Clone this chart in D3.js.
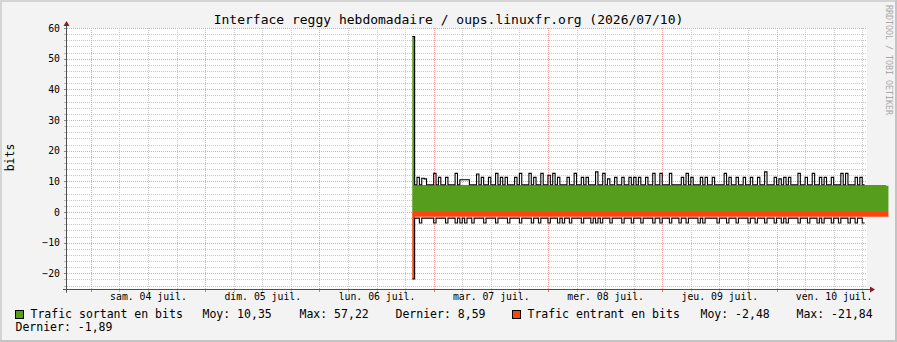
<!DOCTYPE html>
<html><head><meta charset="utf-8">
<script src="https://cdn.jsdelivr.net/npm/d3@7"></script>
<style>
html,body{margin:0;padding:0;background:#f3f3f3;}
svg{display:block;}
text{font-family:"DejaVu Sans Mono",monospace;fill:#000;}
</style></head><body>
<svg id="c" width="897" height="342"></svg>
<script>
const title = "Interface reggy hebdomadaire / oups.linuxfr.org (2026/07/10)";
const yAxisLabel = "bits";
const watermark = "RRDTOOL / TOBI OETIKER";
const yTicks = [-20,-10,0,10,20,30,40,50,60];
const dayLabels = ["sam. 04 juil.","dim. 05 juil.","lun. 06 juil.","mar. 07 juil.","mer. 08 juil.","jeu. 09 juil.","ven. 10 juil."];
const dayStarts = ["2026-07-04","2026-07-05","2026-07-06","2026-07-07","2026-07-08","2026-07-09","2026-07-10"];
const rangeStart = "2026-07-03T19:00:00Z", rangeEnd = "2026-07-10T19:00:00Z";
const dataStart = "2026-07-06T19:30:00Z";
const stepMinutes = 30;

const outAvg = [57.22,8.8,8.8,8.8,8.8,8.8,8.8,8.8,8.8,8.8, 8.8,8.8,8.8,8.8,8.8,8.8,8.8,8.8,8.8,8.8,
8.8,8.8,8.8,8.8,8.8,8.8,8.8,8.8,8.8,8.8, 8.8,8.8,8.8,8.8,8.8,8.8,8.8,8.8,8.8,8.8,
8.8,8.8,8.8,8.8,8.8,8.8,8.8,8.8,8.8,8.8, 8.8,8.8,8.8,8.8,8.8,8.8,8.8,8.8,8.8,8.8,
8.8,8.8,8.8,8.8,8.8,8.8,8.8,8.8,8.8,8.8, 8.8,8.8,8.8,8.8,8.8,8.8,8.8,8.8,8.8,8.8,
8.8,8.8,8.8,8.8,8.8,8.8,8.8,8.8,8.8,8.8, 8.8,8.8,8.8,8.8,8.8,8.8,8.8,8.8,8.8,8.8,
8.8,8.8,8.8,8.8,8.8,8.8,8.8,8.8,8.8,8.8, 8.8,8.8,8.8,8.8,8.8,8.8,8.8,8.8,8.8,8.8,
8.8,8.8,8.8,8.8,8.8,8.8,8.8,8.8,8.8,8.8, 8.8,8.8,8.8,8.8,8.8,8.8,8.8,8.8,8.8,8.8,
8.8,8.8,8.8,8.8,8.8,8.8,8.8,8.8,8.8,8.8, 8.8,8.8,8.8,8.8,8.8,8.8,8.8,8.8,8.8,8.8,
8.8,8.8,8.8,8.8,8.8,8.8,8.8,8.8,8.8,8.8, 8.8,8.8,8.8,8.8,8.8,8.8,8.8,8.8,8.8,8.8,
8.8,8.8,8.8,8.8,8.8,8.8,8.8,8.8,8.8,8.8, 8.8,8.8,8.8,8.8,8.8,8.8,8.8,8.8,8.8,8.59];

const outMax = [57.22,8.9,11.3,8.9,11.0,10.8,8.9,8.9,8.9,12.6, 8.9,11.3,8.9,8.9,11.3,8.9,8.9,8.9,12.6,8.9,
10.5,10.5,10.5,10.5,8.9,8.9,8.9,12.4,8.9,11.3, 8.9,8.9,11.3,8.9,8.9,12.6,8.9,11.3,8.9,11.3,
8.9,8.9,8.9,11.3,8.9,12.6,8.9,8.9,8.9,12.6, 8.9,11.3,8.9,8.9,12.6,8.9,8.9,12.0,8.9,12.6,
8.9,11.3,8.9,8.9,8.9,11.3,8.9,8.9,12.6,8.9, 8.9,11.3,8.9,11.3,8.9,8.9,8.9,13.1,8.9,8.9,
12.6,8.9,10.8,8.9,8.9,11.3,8.9,8.9,11.3,8.9, 8.9,11.3,8.9,11.3,8.9,11.3,8.9,8.9,11.3,8.9,
8.9,12.6,8.9,8.9,12.6,8.9,8.9,8.9,12.6,8.9, 8.9,8.9,8.9,11.3,8.9,12.6,8.9,11.3,8.9,8.9,
8.9,11.3,8.9,11.3,8.9,8.9,11.3,8.9,8.9,8.9, 8.9,12.6,8.9,11.3,8.9,8.9,11.3,8.9,8.9,11.3,
8.9,8.9,11.3,8.9,8.9,11.3,8.9,8.9,13.1,8.9, 8.9,8.9,11.3,8.9,10.8,8.9,11.3,8.9,11.3,8.9,
8.9,8.9,12.6,8.9,8.9,11.3,8.9,8.9,12.6,8.9, 8.9,11.3,8.9,11.3,8.9,8.9,11.3,8.9,8.9,8.9,
12.6,8.9,12.6,8.9,8.9,8.9,11.3,8.9,11.3,8.9];

const inAvg = [-21.84,-1.55,-1.55,-1.55,-1.55,-1.55,-1.55,-1.55,-1.55,-1.55, -1.55,-1.55,-1.55,-1.55,-1.55,-1.55,-1.55,-1.55,-1.55,-1.55,
-1.55,-1.55,-1.55,-1.55,-1.55,-1.55,-1.55,-1.55,-1.55,-1.55, -1.55,-1.55,-1.55,-1.55,-1.55,-1.55,-1.55,-1.55,-1.55,-1.55,
-1.55,-1.55,-1.55,-1.55,-1.55,-1.55,-1.55,-1.55,-1.55,-1.55, -1.55,-1.55,-1.55,-1.55,-1.55,-1.55,-1.55,-1.55,-1.55,-1.55,
-1.55,-1.55,-1.55,-1.55,-1.55,-1.55,-1.55,-1.55,-1.55,-1.55, -1.55,-1.55,-1.55,-1.55,-1.55,-1.55,-1.55,-1.55,-1.55,-1.55,
-1.55,-1.55,-1.55,-1.55,-1.55,-1.55,-1.55,-1.55,-1.55,-1.55, -1.55,-1.55,-1.55,-1.55,-1.55,-1.55,-1.55,-1.55,-1.55,-1.55,
-1.55,-1.55,-1.55,-1.55,-1.55,-1.55,-1.55,-1.55,-1.55,-1.55, -1.55,-1.55,-1.55,-1.55,-1.55,-1.55,-1.55,-1.55,-1.55,-1.55,
-1.55,-1.55,-1.55,-1.55,-1.55,-1.55,-1.55,-1.55,-1.55,-1.55, -1.55,-1.55,-1.55,-1.55,-1.55,-1.55,-1.55,-1.55,-1.55,-1.55,
-1.55,-1.55,-1.55,-1.55,-1.55,-1.55,-1.55,-1.55,-1.55,-1.55, -1.55,-1.55,-1.55,-1.55,-1.55,-1.55,-1.55,-1.55,-1.55,-1.55,
-1.55,-1.55,-1.55,-1.55,-1.55,-1.55,-1.55,-1.55,-1.55,-1.55, -1.55,-1.55,-1.55,-1.55,-1.55,-1.55,-1.55,-1.55,-1.55,-1.55,
-1.55,-1.55,-1.55,-1.55,-1.55,-1.55,-1.55,-1.55,-1.55,-1.55, -1.55,-1.55,-1.55,-1.55,-1.55,-1.55,-1.55,-1.55,-1.55,-1.55];

const inMax = [-21.84,-2,-2,-3.6,-2,-2,-2,-2,-2,-3.6, -2,-2,-2,-2,-3.6,-2,-2,-2,-3.6,-2,
-3.6,-2,-3.6,-2,-2,-3.6,-2,-2,-2,-2, -3.6,-2,-2,-2,-2,-3.6,-2,-2,-2,-2,
-3.6,-2,-2,-2,-2,-3.6,-2,-2,-2,-2, -3.6,-2,-2,-3.6,-2,-2,-2,-3.6,-2,-2,
-2,-3.6,-2,-3.6,-2,-2,-3.6,-2,-2,-2, -2,-3.6,-2,-2,-2,-3.6,-2,-3.6,-2,-3.6,
-2,-2,-2,-3.6,-2,-2,-2,-2,-3.6,-2, -2,-2,-3.6,-2,-2,-2,-3.6,-2,-2,-2,
-2,-3.6,-2,-2,-3.6,-2,-2,-2,-3.6,-2, -2,-2,-3.6,-2,-2,-3.6,-2,-2,-2,-2,
-3.6,-2,-3.6,-2,-2,-2,-2,-2,-3.6,-2, -2,-2,-3.6,-2,-2,-2,-3.6,-2,-2,-2,
-2,-3.6,-2,-2,-3.6,-2,-2,-2,-3.6,-2, -2,-2,-3.6,-2,-2,-3.6,-2,-3.6,-2,-2,
-2,-2,-3.6,-2,-2,-2,-3.6,-2,-2,-2, -3.6,-2,-3.6,-2,-2,-2,-3.6,-2,-2,-3.6,
-2,-2,-2,-3.6,-2,-2,-3.6,-2,-2,-3.6];

const seriesNames = ["Trafic sortant en bits","Trafic entrant en bits"];
const seriesColors = ["#579d1c","#ff420e"];
const statMoy = [10.35,-2.48];
const statMax = [57.22,-21.84];
const statDernier = [8.59,-1.89];

const svg = d3.select("#c");
const W = 897, H = 342;
const L = 67, R = 867, T = 28, B = 288.67;

svg.append("rect").attr("x",0).attr("y",0).attr("width",W).attr("height",H).attr("fill","#f3f3f3");
// frame
svg.append("rect").attr("x",0).attr("y",0).attr("width",W).attr("height",2).attr("fill","#d4d4d4");
svg.append("rect").attr("x",0).attr("y",0).attr("width",2).attr("height",H).attr("fill","#d4d4d4");
svg.append("rect").attr("x",0).attr("y",H-2).attr("width",W).attr("height",2).attr("fill","#c4c4c4");
svg.append("rect").attr("x",W-2).attr("y",0).attr("width",2).attr("height",H).attr("fill","#c4c4c4");

const x = d3.scaleUtc().domain([new Date(rangeStart), new Date(rangeEnd)]).range([L, R]);
const y = d3.scaleLinear().domain([-25, 60]).range([B, T]);

svg.append("rect").attr("x",L).attr("y",T).attr("width",R-L).attr("height",B-T).attr("fill","#fff");

const g = svg.append("g").attr("shape-rendering","crispEdges");
const minorCol = "#c8c8c8", majorCol = "#f0a0a0";
// horizontal grid
const yMinor = d3.range(-24, 61, 2).filter(v => v % 10 !== 0);
yMinor.forEach(v => {
  const yy = Math.round(y(v)) + 0.5;
  g.append("line").attr("x1",L).attr("x2",R).attr("y1",yy).attr("y2",yy)
    .attr("stroke",minorCol).attr("stroke-dasharray","1,1");
  g.append("line").attr("x1",L-3).attr("x2",L).attr("y1",yy).attr("y2",yy).attr("stroke","#bbb");
});
yTicks.forEach(v => {
  const yy = Math.round(y(v)) + 0.5;
  g.append("line").attr("x1",L).attr("x2",R).attr("y1",yy).attr("y2",yy)
    .attr("stroke",majorCol).attr("stroke-dasharray","1,1");
  g.append("line").attr("x1",L-3).attr("x2",L).attr("y1",yy).attr("y2",yy).attr("stroke","#888");
});
// vertical grid
const t0 = new Date(rangeStart), t1 = new Date(rangeEnd);
const sixH = d3.utcHour.every(6).range(t0, t1);
sixH.forEach(d => {
  const xx = Math.round(x(d)) + 0.5;
  const major = d.getUTCHours() === 0;
  g.append("line").attr("x1",xx).attr("x2",xx).attr("y1",T).attr("y2",B)
    .attr("stroke", major ? majorCol : minorCol).attr("stroke-dasharray","1,1");
  g.append("line").attr("x1",xx).attr("x2",xx).attr("y1",B).attr("y2",B+3)
    .attr("stroke", major ? "#e08080" : "#bbb");
});

// data
const ds = new Date(dataStart);
const stepMs = stepMinutes*60000;
function toPts(arr){
  const pts = arr.map((v,i)=>({t:new Date(ds.getTime()+i*stepMs), v}));
  pts.push({t:new Date(ds.getTime()+arr.length*stepMs), v:arr[arr.length-1]});
  return pts;
}
const area = d3.area().curve(d3.curveStepAfter).x(d=>x(d.t)).y0(y(0)).y1(d=>y(d.v));
const line = d3.line().curve(d3.curveStepAfter).x(d=>x(d.t)).y(d=>y(d.v));
svg.append("path").attr("d", area(toPts(outAvg))).attr("fill", seriesColors[0]);
svg.append("path").attr("d", line(toPts(outMax))).attr("fill","none").attr("stroke","#000").attr("stroke-width",1.1);
svg.append("path").attr("d", area(toPts(inAvg))).attr("fill", seriesColors[1]);
svg.append("path").attr("d", line(toPts(inMax))).attr("fill","none").attr("stroke","#000").attr("stroke-width",1.1);

// axes lines
svg.append("line").attr("x1",L-0.5).attr("x2",L-0.5).attr("y1",25).attr("y2",B+4).attr("stroke","#505050");
svg.append("line").attr("x1",L-4).attr("x2",R+3).attr("y1",Math.round(B)+0.5).attr("y2",Math.round(B)+0.5).attr("stroke","#505050");
svg.append("path").attr("d",`M${L-3.5},${26} L${L+2.5},${26} L${L-0.5},${21} Z`).attr("fill","#8b1a1a");
svg.append("path").attr("d",`M${R+3},${Math.round(B)-2.5} L${R+3},${Math.round(B)+3.5} L${R+8},${Math.round(B)+0.5} Z`).attr("fill","#8b1a1a");

// y axis labels
const yAxis = d3.axisLeft(y).tickValues(yTicks).tickSize(0).tickPadding(0);
const ya = svg.append("g").attr("transform",`translate(${L-7},0)`).call(yAxis);
ya.select(".domain").remove();
ya.selectAll("text").attr("font-size","9.8px").attr("font-family","DejaVu Sans Mono").attr("fill","#000");

// x axis labels at noon
const noons = dayStarts.map(s => new Date(s+"T12:00:00Z"));
const xAxis = d3.axisBottom(x).tickValues(noons).tickFormat((d,i)=>dayLabels[i]).tickSize(0).tickPadding(0);
const xa = svg.append("g").attr("transform",`translate(0,${293})`).call(xAxis);
xa.select(".domain").remove();
xa.selectAll("text").attr("font-size","9.8px").attr("font-family","DejaVu Sans Mono").attr("fill","#000");

// title
svg.append("text").attr("x",448.5).attr("y",23.5).attr("text-anchor","middle").attr("font-size","13px").text(title);
// y label
svg.append("text").attr("transform","translate(14,157.5) rotate(-90)").attr("text-anchor","middle")
  .attr("font-size","11.5px").text(yAxisLabel);
// watermark
svg.append("text").attr("transform","translate(886,60) rotate(90)").attr("text-anchor","middle")
  .attr("font-size","8.3px").style("fill","#a8a8a8").text(watermark);

// legend
const fmt = v => d3.format(".2f")(v).replace(".",",").replace("−","-");
const lf = "11.5px";
function leg(xp, yp, s){ svg.append("text").attr("x",xp).attr("y",yp).attr("font-size",lf).attr("xml:space","preserve").text(s); }
svg.append("rect").attr("x",15.5).attr("y",310.5).attr("width",8).attr("height",8).attr("fill",seriesColors[0]).attr("stroke","#000");
leg(30.5, 317.5, seriesNames[0]);
leg(202.5, 317.5, "Moy: " + fmt(statMoy[0]));
leg(299.5, 317.5, "Max: " + fmt(statMax[0]));
leg(395.5, 317.5, "Dernier: " + fmt(statDernier[0]));
svg.append("rect").attr("x",512.5).attr("y",310.5).attr("width",8).attr("height",8).attr("fill",seriesColors[1]).attr("stroke","#000");
leg(527.5, 317.5, seriesNames[1]);
leg(700.5, 317.5, "Moy: " + fmt(statMoy[1]));
leg(796.5, 317.5, "Max: " + fmt(statMax[1]));
leg(15.5, 330.5, "Dernier: " + fmt(statDernier[1]));
</script>
</body></html>
